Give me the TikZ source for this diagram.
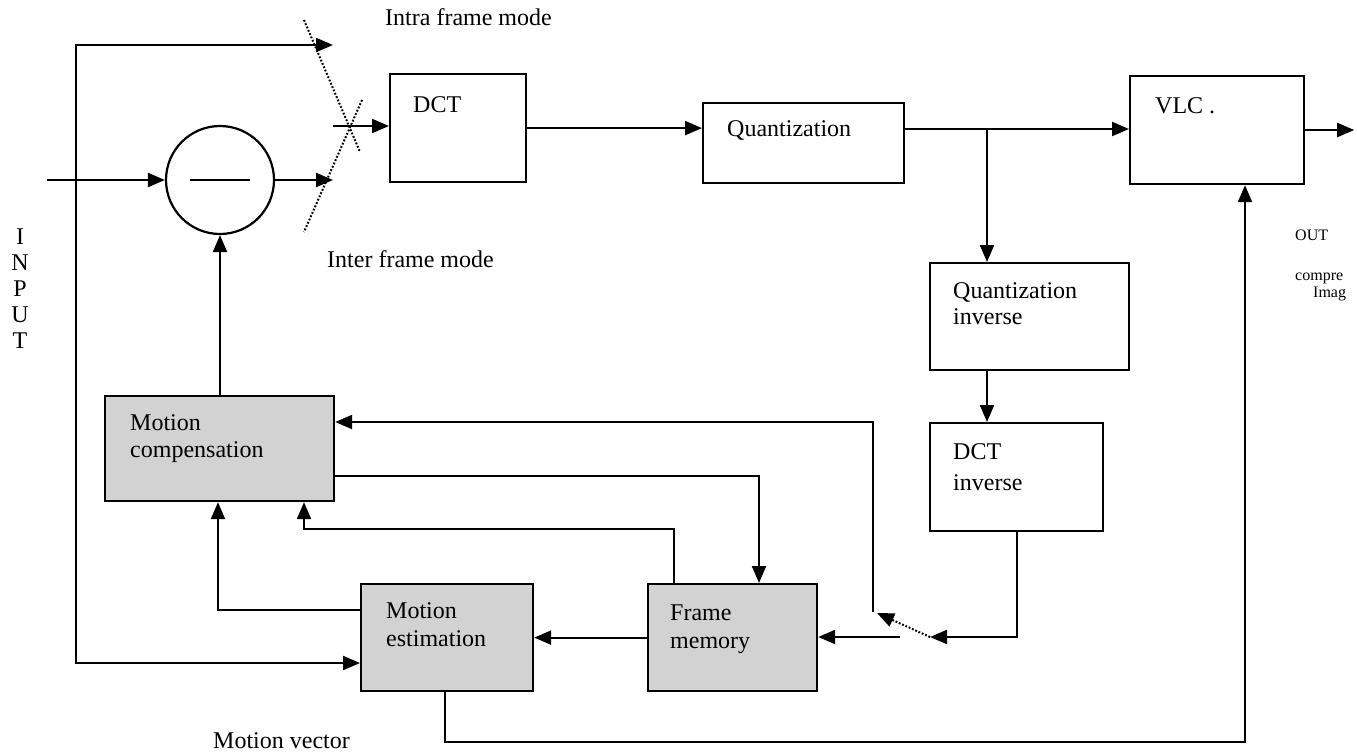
\documentclass[tikz,border=0pt]{standalone}
\usepackage{fontspec}
\setmainfont{Liberation Serif}
\usetikzlibrary{arrows.meta,calc}
\begin{document}
\begin{tikzpicture}[x=1pt,y=-1pt,
  blk/.style={draw, line width=2.2pt, inner sep=0pt, anchor=north west},
  shd/.style={blk, fill=gray!35},
  ln/.style={line width=2.2pt},
  arr/.style={ln, -{Triangle[length=17pt,width=14pt]}},
  dots/.style={line width=2pt, dash pattern=on 1.8pt off 1.8pt},
  lbl/.style={font=\fontsize{24}{26}\selectfont, inner sep=0pt, anchor=base west},
  sml/.style={font=\fontsize{16}{18}\selectfont, inner sep=0pt, anchor=base west}]
\useasboundingbox (0,0) rectangle (1357,755);

% blocks
\node[blk, minimum width=136pt, minimum height=108pt] (dct) at (389,73) {};
\node[blk, minimum width=201pt, minimum height=80pt] (quant) at (702,102) {};
\node[blk, minimum width=174pt, minimum height=108pt] (vlc) at (1129,75) {};
\node[blk, minimum width=199pt, minimum height=107pt] (qinv) at (929,262) {};
\node[blk, minimum width=173pt, minimum height=108pt] (dinv) at (929,422) {};
\node[shd, minimum width=229pt, minimum height=105pt] (mc) at (104,395) {};
\node[shd, minimum width=172pt, minimum height=107pt] (me) at (360,583) {};
\node[shd, minimum width=169pt, minimum height=107pt] (fm) at (647,583) {};
\node[draw, circle, ln, minimum size=108pt, inner sep=0pt] (sub) at (220,180) {};

% block texts
\node[lbl] (tdct) at (413,112) {DCT};
\node[lbl] (tquant) at (727,136) {Quantization};
\node[lbl] (tvlc) at (1155,113) {VLC .};
\node[lbl] (tqinv1) at (953,298) {Quantization};
\node[lbl] (tqinv2) at (953,324) {inverse};
\node[lbl] (tdinv1) at (953,459) {DCT};
\node[lbl] (tdinv2) at (953,490) {inverse};
\node[lbl] (tmc1) at (130,430) {Motion};
\node[lbl] (tmc2) at (130,457) {compensation};
\node[lbl] (tme1) at (386,618) {Motion};
\node[lbl] (tme2) at (386,646) {estimation};
\node[lbl] (tfm1) at (670,620) {Frame};
\node[lbl] (tfm2) at (670,648) {memory};
\draw[ln] (190,180) -- (250,180);

% other labels
\node[lbl] (intra) at (385,25) {Intra frame mode};
\node[lbl] (inter) at (327,267) {Inter frame mode};
\node[lbl] (mv) at (213,748) {Motion vector};
\node[lbl, anchor=base] (i1) at (20,244) {I};
\node[lbl, anchor=base] (i2) at (20,270) {N};
\node[lbl, anchor=base] (i3) at (20,296) {P};
\node[lbl, anchor=base] (i4) at (20,322) {U};
\node[lbl, anchor=base] (i5) at (20,348) {T};
\node[sml] (out) at (1295,240) {OUT};
\node[sml] (comp) at (1295,280) {compre};
\node[sml] (imag) at (1313,297) {Imag};

% coordinates
\coordinate (in) at (47,180);
\coordinate (lsplit) at (76,180);
\coordinate (intraend) at (333,45);
\coordinate (interend) at (333,180);
\coordinate (swout) at (333,126);
\coordinate (br) at (987,129);
\coordinate (swin) at (930,637);
\coordinate (fmin) at (900,637);
\coordinate (fbend) at (873,612);

% connectors
\draw[arr] (in) -- (sub.west);
\draw[arr] (lsplit) |- (intraend);
\draw[arr] (lsplit) |- ($(me.north west)+(0,80)$);
\draw[arr] (sub.east) -- (interend);
\draw[dots] (304,20) -- (360,152);
\draw[dots] (362,100) -- (304,232);
\draw[arr] (swout) -- (swout -| dct.west);
\draw[arr] (dct.east) -- (dct.east -| quant.west);
\draw[arr] (quant.east |- br) -- (br -| vlc.west);
\draw[arr] (br) -- (br |- qinv.north);
\draw[arr] (br |- qinv.south) -- (br |- dinv.north);
\draw[arr] (dinv.south) |- (swin);
\draw[dots, -{Triangle[length=17pt,width=14pt]}] (swin) -- (877,613);
\draw[arr] (fmin) -- (fmin -| fm.east);
\draw[arr] (fbend) |- ($(mc.north east)+(0,27)$);
\draw[arr] ($(mc.north east)+(0,81)$) -| ($(fm.north west)+(112,0)$);
\draw[arr] ($(fm.north west)+(27,0)$) -- ++(0,-54) -| ($(mc.south west)+(200,0)$);
\draw[arr] ($(me.north west)+(0,27)$) -| ($(mc.south west)+(114,0)$);
\draw[arr] (sub.south |- mc.north) -- (sub.south);
\draw[arr] (fm.west) -- (me.east);
\draw[arr] ($(me.south west)+(85,0)$) -- ++(0,50) -| ($(vlc.south west)+(116,0)$);
\draw[arr] ($(vlc.north east)+(0,55)$) -- ++(49,0);
\end{tikzpicture}
\end{document}
